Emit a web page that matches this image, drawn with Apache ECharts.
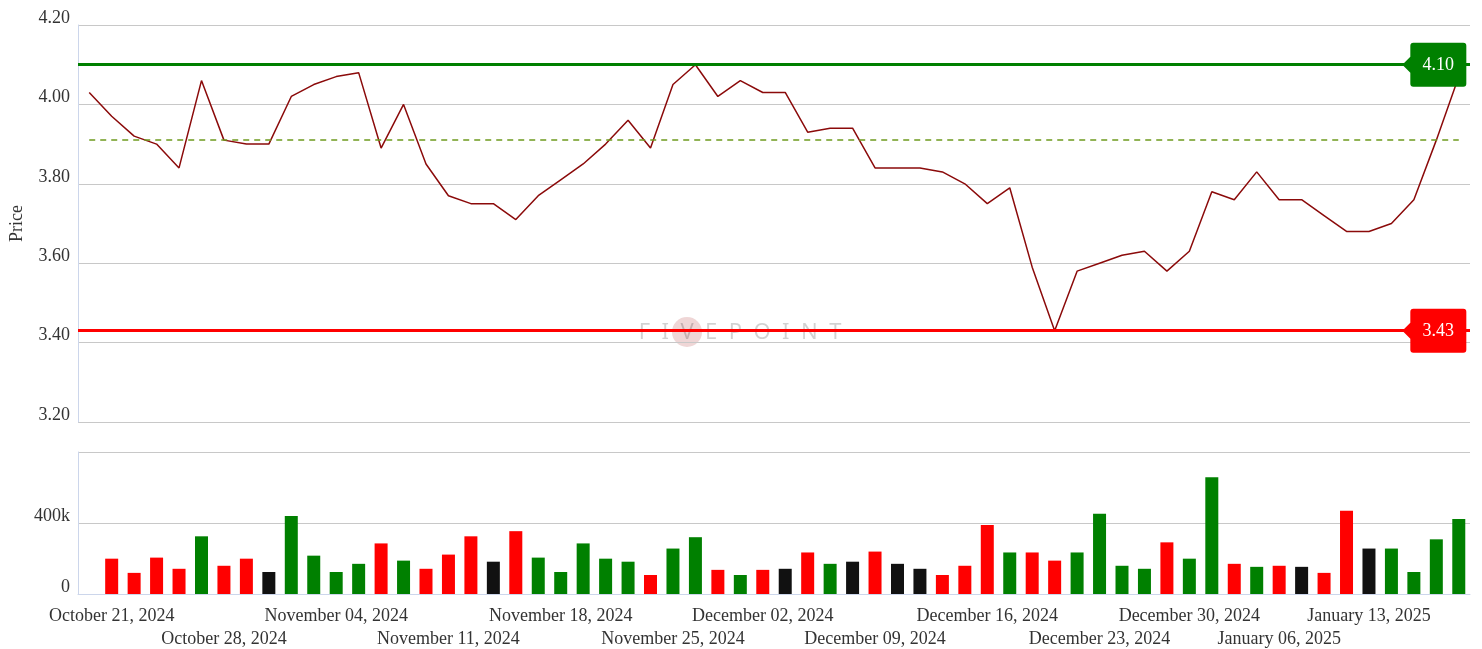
<!DOCTYPE html>
<html>
<head>
<meta charset="utf-8">
<title>Price</title>
<script src="https://cdn.jsdelivr.net/npm/echarts@6/dist/echarts.min.js"></script>
<style>
  html, body { margin: 0; padding: 0; background: #fff; }
  #chart { width: 1482px; height: 649px; }
</style>
</head>
<body>
<div id="chart"></div>
<script>
// trading days
var dates = [
  '2024-10-18',
  '2024-10-21', '2024-10-22', '2024-10-23', '2024-10-24', '2024-10-25',
  '2024-10-28', '2024-10-29', '2024-10-30', '2024-10-31', '2024-11-01',
  '2024-11-04', '2024-11-05', '2024-11-06', '2024-11-07', '2024-11-08',
  '2024-11-11', '2024-11-12', '2024-11-13', '2024-11-14', '2024-11-15',
  '2024-11-18', '2024-11-19', '2024-11-20', '2024-11-21', '2024-11-22',
  '2024-11-25', '2024-11-26', '2024-11-27', '2024-11-29',
  '2024-12-02', '2024-12-03', '2024-12-04', '2024-12-05', '2024-12-06',
  '2024-12-09', '2024-12-10', '2024-12-11', '2024-12-12', '2024-12-13',
  '2024-12-16', '2024-12-17', '2024-12-18', '2024-12-19', '2024-12-20',
  '2024-12-23', '2024-12-24', '2024-12-26', '2024-12-27',
  '2024-12-30', '2024-12-31', '2025-01-02', '2025-01-03',
  '2025-01-06', '2025-01-07', '2025-01-08', '2025-01-10',
  '2025-01-13', '2025-01-14', '2025-01-15', '2025-01-16', '2025-01-17'
];

var prices = [
  4.03,
  3.97, 3.92, 3.90, 3.84, 4.06,
  3.91, 3.90, 3.90, 4.02, 4.05,
  4.07, 4.08, 3.89, 4.00, 3.85,
  3.77, 3.75, 3.75, 3.71, 3.77,
  3.81, 3.85, 3.90, 3.96, 3.89,
  4.05, 4.10, 4.02, 4.06,
  4.03, 4.03, 3.93, 3.94, 3.94,
  3.84, 3.84, 3.84, 3.83, 3.80,
  3.75, 3.79, 3.59, 3.43, 3.58,
  3.60, 3.62, 3.63, 3.58,
  3.63, 3.78, 3.76, 3.83,
  3.76, 3.76, 3.72, 3.68,
  3.68, 3.70, 3.76, 3.91, 4.07
];

var volumes = [
  null,
  199000, 119000, 205000, 142000, 325000,
  159000, 199000, 124000, 440000, 216000,
  124000, 170000, 285000, 188000, 142000,
  222000, 325000, 182000, 354000, 205000,
  124000, 285000, 199000, 182000, 107000,
  256000, 320000, 136000, 107000,
  136000, 142000, 234000, 170000, 182000,
  239000, 170000, 142000, 107000, 159000,
  389000, 234000, 234000, 188000, 234000,
  452000, 159000, 142000, 291000,
  199000, 658000, 170000, 153000,
  159000, 153000, 119000, 469000,
  256000, 256000, 124000, 308000, 423000
];

var refLevel = 3.91;   // dashed reference
var priceTicks = [3.2, 4.2, 0.2];   // min, max, step
var volumeTicks = [0, 800000, 400000];

var monthNames = ['January', 'February', 'March', 'April', 'May', 'June', 'July',
  'August', 'September', 'October', 'November', 'December'];

// first trading day of each week gets a label, rows alternate
var labelRow = {};
var shown = 0;
for (var i = 1; i < dates.length; i++) {
  var d0 = new Date(dates[i - 1] + 'T00:00:00Z').getUTCDay();
  var d1 = new Date(dates[i] + 'T00:00:00Z').getUTCDay();
  if (d1 < d0) {
    labelRow[i] = shown % 2;
    shown++;
  }
}

function fmtDate(s) {
  var p = s.split('-');
  return monthNames[+p[1] - 1] + ' ' + p[2] + ', ' + p[0];
}

var maxPrice = Math.max.apply(null, prices);
var minPrice = Math.min.apply(null, prices);
var lastIdx = dates.length - 1;

var barData = volumes.map(function (v, i) {
  var color = '#111111';
  if (i > 0 && prices[i] > prices[i - 1]) color = '#008000';
  if (i > 0 && prices[i] < prices[i - 1]) color = '#ff0000';
  return { value: v, itemStyle: { color: color } };
});

var tagPath = 'path://M0,22 L8,14 L8,3 Q8,0 11,0 L61,0 Q64,0 64,3 L64,41 Q64,44 61,44 L11,44 Q8,44 8,41 L8,30 Z';
var font = 'Liberation Serif';

// one date axis per label row, both under the volume grid
function dateAxis(row, offset) {
  return {
    type: 'category',
    gridIndex: 1,
    position: 'bottom',
    offset: offset,
    data: dates,
    axisLine: { show: row === 0, lineStyle: { color: '#ccd6eb', width: 1 } },
    axisTick: { show: false },
    axisLabel: {
      interval: function (index) { return labelRow[index] === row; },
      formatter: function (value) { return fmtDate(value); },
      showMinLabel: true,
      showMaxLabel: true,
      hideOverlap: false,
      color: '#333',
      fontSize: 18,
      fontFamily: font,
      margin: 13
    }
  };
}

var chart = echarts.init(document.getElementById('chart'));
var option;
option = {
  animation: false,
  textStyle: { fontFamily: font },
  graphic: [
    {
      type: 'circle',
      shape: { cx: 687, cy: 332, r: 15 },
      style: { fill: 'rgba(190,90,90,0.25)' },
      z: 0
    },
    {
      type: 'text',
      x: 740, y: 333,
      style: {
        text: 'F  I  V  E  P  O  I  N  T',
        font: '22px "Noto Sans"',
        fill: 'rgba(0,0,0,0.18)',
        align: 'center',
        verticalAlign: 'middle'
      },
      z: 0
    }
  ],
  grid: [
    { left: 78, right: 12, top: 25, height: 397 },
    { left: 78, right: 12, top: 452, height: 142 }
  ],
  xAxis: [
    {
      type: 'category',
      gridIndex: 0,
      data: dates,
      axisLine: { show: false },
      axisTick: { show: false },
      axisLabel: { show: false },
      splitLine: { show: false }
    },
    dateAxis(0, 0),
    dateAxis(1, 23)
  ],
  yAxis: [
    {
      type: 'value',
      gridIndex: 0,
      min: priceTicks[0],
      max: priceTicks[1],
      interval: priceTicks[2],
      name: 'Price',
      nameLocation: 'middle',
      nameRotate: 90,
      nameGap: 52,
      nameTextStyle: { color: '#333', fontSize: 18, fontFamily: font },
      axisLine: { show: true, lineStyle: { color: '#ccd6eb' } },
      axisTick: { show: false },
      axisLabel: {
        formatter: function (v) { return v.toFixed(2); },
        color: '#333',
        fontSize: 18,
        fontFamily: font,
        lineHeight: 14,
        verticalAlign: 'bottom',
        margin: 8
      },
      splitLine: { lineStyle: { color: '#c8c8c8' } }
    },
    {
      type: 'value',
      gridIndex: 1,
      min: volumeTicks[0],
      max: volumeTicks[1],
      interval: volumeTicks[2],
      axisLine: { show: true, lineStyle: { color: '#ccd6eb' } },
      axisTick: { show: false },
      axisLabel: {
        showMaxLabel: false,
        formatter: function (v) { return v === 0 ? '0' : (v / 1000) + 'k'; },
        color: '#333',
        fontSize: 18,
        fontFamily: font,
        lineHeight: 14,
        verticalAlign: 'bottom',
        margin: 8
      },
      splitLine: { lineStyle: { color: '#c8c8c8' } }
    }
  ],
  series: [
    {
      name: 'Price',
      type: 'line',
      xAxisIndex: 0,
      yAxisIndex: 0,
      data: prices,
      showSymbol: false,
      lineStyle: { color: '#8b0a0a', width: 1.5 },
      itemStyle: { color: '#8b0a0a' },
      z: 3,
      markLine: {
        silent: true,
        symbol: 'none',
        label: { show: false },
        data: [
          { yAxis: maxPrice, lineStyle: { color: '#008000', width: 3, type: 'solid' } },
          { yAxis: minPrice, lineStyle: { color: '#ff0000', width: 3, type: 'solid' } },
          [
            { coord: [0, refLevel], lineStyle: { color: '#6e9b1e', width: 1.5, type: [6, 5] } },
            { coord: [lastIdx, refLevel] }
          ]
        ]
      },
      markPoint: {
        silent: true,
        symbol: tagPath,
        symbolSize: [64, 44],
        symbolOffset: [-2, 0],
        label: {
          show: true,
          color: '#fff',
          fontSize: 18,
          fontFamily: font,
          offset: [4, 1]
        },
        data: [
          { coord: [lastIdx - 1, maxPrice], value: maxPrice.toFixed(2), itemStyle: { color: '#008000' } },
          { coord: [lastIdx - 1, minPrice], value: minPrice.toFixed(2), itemStyle: { color: '#ff0000' } }
        ]
      }
    },
    {
      name: 'Volume',
      type: 'bar',
      xAxisIndex: 1,
      yAxisIndex: 1,
      barWidth: 13,
      data: barData
    }
  ]
};
chart.setOption(option);
</script>
</body>
</html>
